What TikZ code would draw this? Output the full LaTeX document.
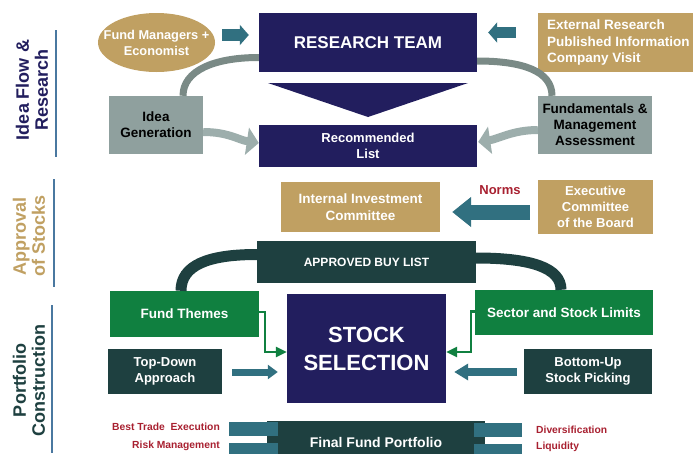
\documentclass[tikz,border=0pt]{standalone}
\usepackage{fontspec}
\setmainfont{Liberation Sans}
\usetikzlibrary{arrows.meta,calc,shapes.geometric}
\definecolor{navy}{HTML}{221E5E}
\definecolor{tan}{HTML}{C0A062}
\definecolor{tealA}{HTML}{317080}
\definecolor{grayBox}{HTML}{8FA09E}
\definecolor{grayArc}{HTML}{7A8A86}
\definecolor{grayArr}{HTML}{9DAEAC}
\definecolor{dgreen}{HTML}{1E4040}
\definecolor{fgreen}{HTML}{108040}
\definecolor{redT}{HTML}{A82030}
\definecolor{steel}{HTML}{4A78A0}
\newcommand\myfs[2]{\fontsize{#1}{#2}\selectfont\bfseries}
\begin{document}
\begin{tikzpicture}[x=1pt,y=-1pt,
  box/.style={rectangle, inner sep=0pt, align=center, text=white},
  sidelabel/.style={rotate=90, align=center, inner sep=0pt, font=\myfs{18}{19}},
  redlabel/.style={inner sep=0pt, text=redT, font=\myfs{10.3}{12}},
  vline/.style={steel, line width=1.5pt},
  blockarrow/.style={tealA, line width=#1},
  grayarc/.style={grayArc, line width=7pt},
  grayarrow/.style={grayArr, line width=8pt, -{Triangle[length=12pt,width=27pt]}},
  greenarc/.style={dgreen, line width=11pt},
  elbow/.style={fgreen, line width=2.5pt, -{Triangle[length=11pt,width=10pt]}}
]
\useasboundingbox (0,0) rectangle (693,453);

% side labels
\node[sidelabel, text=navy] (l1) at (32,90) {Idea Flow \&\\Research};
\node[sidelabel, text=tan] (l2) at (29,236) {Approval\\of Stocks};
\node[sidelabel, text=dgreen] (l3) at (29,380) {Portfolio\\Construction};
\draw[vline] (56,30) -- (56,157);
\draw[vline] (54,179) -- (54,287);
\draw[vline] (52,305) -- (52,453);

% idea flow
\node[ellipse, fill=tan, inner sep=0pt, minimum width=117pt, minimum height=59pt] (fm) at (156.5,42.5) {};
\node[box, font=\myfs{12.8}{16}] (fmt) at (fm.center) {Fund Managers +\\Economist};
\node[box, fill=navy, minimum width=218pt, minimum height=59pt, font=\myfs{17}{20}] (rt) at (368,42.5) {RESEARCH TEAM};
\node[box, fill=tan, minimum width=155pt, minimum height=59pt] (ext) at (615.5,42.5) {};
\node[box, anchor=west, align=left, font=\myfs{13.5}{16.5}] (extt) at (547,43) {External Research\\Published Information\\Company Visit};
\fill[navy] (268,83) -- (468,83) -- (368,117) -- cycle;
\node[box, fill=navy, minimum width=218pt, minimum height=42pt, font=\myfs{13}{16}] (rl) at (368,146) {Recommended\\List};
\node[box, fill=grayBox, text=black, minimum width=94pt, minimum height=58pt, font=\myfs{13.5}{16}] (ig) at (156,125) {Idea\\Generation};
\node[box, fill=grayBox, text=black, minimum width=114pt, minimum height=58pt, font=\myfs{13.5}{16}] (fa) at (595,125) {Fundamentals \&\\Management\\Assessment};

\draw[blockarrow=12pt, -{Triangle[length=9pt,width=20pt]}] ($(fm.east)+(7,-7.5)$) -- ($(rt.west)+(-10,-7.5)$);
\draw[blockarrow=11pt, -{Triangle[length=9pt,width=20pt]}] ($(ext.west)+(-22,-10)$) -- ($(rt.east)+(11,-10)$);

\draw[grayarc] ($(rt.west)+(0,15)$) .. controls +(-45,0) and +(0,-25) .. ($(ig.north)+(27,0)$);
\draw[grayarc] ($(rt.east)+(0,18.5)$) .. controls +(45,0) and +(0,-25) .. ($(fa.north)+(-43,0)$);
\draw[grayarrow] ($(ig.east)+(0,7)$) .. controls +(25,0) and +(-20,-3) .. ($(rl.west)+(0,-3)$);
\draw[grayarrow] ($(fa.west)+(0,5)$) .. controls +(-25,0) and +(20,-3) .. ($(rl.east)+(1,-4)$);

% approval
\node[box, fill=tan, minimum width=159pt, minimum height=50pt, font=\myfs{13.5}{17}] (iic) at (360.5,207) {Internal Investment\\Committee};
\node[box, fill=tan, minimum width=115pt, minimum height=54pt, font=\myfs{13}{16}] (ecb) at (595.5,207) {Executive\\Committee\\of the Board};
\node[inner sep=0pt, text=redT, font=\myfs{13}{15}] (nm) at (500,190) {Norms};
\draw[blockarrow=15pt, -{Triangle[length=19pt,width=29pt]}] ($(ecb.west)+(-8,5)$) -- ($(iic.east)+(12,5)$);
\node[box, fill=dgreen, minimum width=219pt, minimum height=42pt, font=\myfs{12}{14}] (abl) at (366.5,262) {APPROVED BUY LIST};

% portfolio construction
\node[box, fill=fgreen, minimum width=149pt, minimum height=46pt, font=\myfs{13.5}{16}] (ft) at (184.5,314) {Fund Themes};
\node[box, fill=fgreen, minimum width=178pt, minimum height=45pt, font=\myfs{13.5}{16}] (ssl) at (564,312.5) {Sector and Stock Limits};
\draw[greenarc] ($(abl.west)+(0,-7.5)$) .. controls +(-50,0) and +(0,-25) .. ($(ft.north)+(-3.5,0)$);
\draw[greenarc] ($(abl.east)+(0,-4)$) .. controls +(55,0) and +(0,-22) .. ($(ssl.north)+(-3,0)$);
\node[box, fill=navy, minimum width=159pt, minimum height=109pt, font=\myfs{22}{28}] (ss) at (366.5,348.5) {STOCK\\SELECTION};
\node[box, fill=dgreen, minimum width=114pt, minimum height=45pt, font=\myfs{13}{16}] (td) at (165,371.5) {Top-Down\\Approach};
\node[box, fill=dgreen, minimum width=128pt, minimum height=45pt, font=\myfs{13}{16}] (bu) at (588,371.5) {Bottom-Up\\Stock Picking};

\draw[elbow] ($(ft.east)+(0,-2)$) -- ++(6,0) |- ($(ss.west)+(0,3.5)$);
\draw[elbow] ($(ssl.west)+(0,-1)$) -- ++(-4,0) |- ($(ss.east)+(0,3.5)$);
\draw[blockarrow=7pt, -{Triangle[length=10pt,width=14pt]}] ($(td.east)+(10,0.5)$) -- ($(ss.west)+(-9,23.5)$);
\draw[blockarrow=8pt, -{Triangle[length=14pt,width=16pt]}] ($(bu.west)+(-7,0.5)$) -- ($(ss.east)+(8,23.5)$);

\node[box, fill=dgreen, minimum width=218pt, minimum height=42pt, font=\myfs{14}{16}] (ffp) at (376,442) {Final Fund Portfolio};
\fill[tealA] (229,422) rectangle (278,436);
\fill[tealA] (229,443) rectangle (278,457);
\fill[tealA] (474,423) rectangle (522,437);
\fill[tealA] (474,444) rectangle (522,458);
\node[redlabel, anchor=east] (r1) at (220,427) {Best Trade\ \ Execution};
\node[redlabel, anchor=east] (r2) at (220,446) {Risk Management};
\node[redlabel, anchor=west] (r3) at (536,430) {Diversification};
\node[redlabel, anchor=west] (r4) at (536,447) {Liquidity};
\end{tikzpicture}
\end{document}
